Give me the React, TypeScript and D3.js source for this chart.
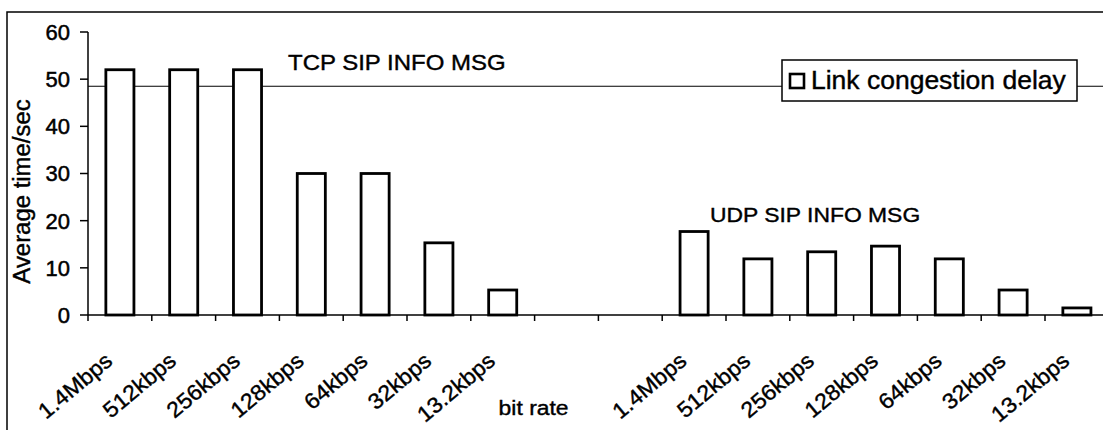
import React from 'react';
import * as d3 from 'd3';

// bit rates on the x axis (same set for TCP and UDP)
const rates = ['1.4Mbps', '512kbps', '256kbps', '128kbps', '64kbps', '32kbps', '13.2kbps'];
// link congestion delay, seconds
const tcpDelay = [52, 52, 52, 30, 30, 15.3, 5.3];
const udpDelay = [17.7, 11.9, 13.4, 14.6, 11.9, 5.3, 1.5];
const gapSlots = 2;
const yTicks = [0, 10, 20, 30, 40, 50, 60];
const refLine = 48.5;

const W = 1103;
const H = 430;
const FONT = '"Liberation Sans", Arial, sans-serif';
// the scanned lettering is a little wider than Arial
const WIDE = 1.09;

const App: React.FC = () => {
  // one row per slot: tcp, blank gap, udp
  const slots = [
    ...rates.map((r, i) => ({ label: r, value: tcpDelay[i] as number | null })),
    ...d3.range(gapSlots).map(() => ({ label: '', value: null as number | null })),
    ...rates.map((r, i) => ({ label: r, value: udpDelay[i] as number | null })),
  ];

  const left = 88;
  const step = 63.8;
  const x = d3.scaleBand<number>()
    .domain(d3.range(slots.length))
    .range([left, left + step * slots.length])
    .padding(0);
  const y = d3.scaleLinear().domain([0, 60]).range([315, 32]);

  const bw = x.bandwidth();
  const barW = bw * 0.44;
  const y0 = y(0);
  const [xStart, xEnd] = x.range();
  const boundaries = d3.range(slots.length + 1).map(k => xStart + k * x.step());

  return (
    <div style={{ position: 'absolute', left: 0, top: 0 }}>
      <svg width={W} height={H} style={{ display: 'block', background: '#fff' }} fontFamily={FONT}>
        {/* outer frame */}
        <rect x={7} y={12} width={W} height={H} fill="none" stroke="#000" strokeWidth={1.5} />

        {/* horizontal rule behind labels */}
        <line x1={xStart} x2={W} y1={y(refLine)} y2={y(refLine)} stroke="#000" strokeWidth={1.2} />

        {/* bars */}
        {slots.map((d, i) => d.value == null ? null : (
          <rect key={i}
            x={(x(i) as number) + (bw - barW) / 2}
            y={y(d.value)}
            width={barW}
            height={y0 - y(d.value)}
            fill="#fff" stroke="#000" strokeWidth={2.8} />
        ))}

        {/* y axis */}
        <line x1={xStart} x2={xStart} y1={y(60)} y2={y0} stroke="#000" strokeWidth={1.5} />
        {yTicks.map(t => (
          <g key={t} transform={`translate(${xStart},${y(t)})`}>
            <line x1={-8} x2={0} stroke="#000" strokeWidth={1.5} />
            <text x={-18} dy="0.36em" textAnchor="end" fontSize={22} stroke="#000" strokeWidth={0.5}>{t}</text>
          </g>
        ))}
        <text transform={`translate(30,${(y(60) + y0) / 2 + 18}) rotate(-90) scale(1.04,1)`} textAnchor="middle"
          fontSize={23} stroke="#000" strokeWidth={0.4}>Average time/sec</text>

        {/* x axis */}
        <line x1={xStart} x2={xEnd} y1={y0} y2={y0} stroke="#000" strokeWidth={1.5} />
        {boundaries.map((bx, k) => (
          <line key={k} x1={bx} x2={bx} y1={y0} y2={y0 + 6} stroke="#000" strokeWidth={1.5} />
        ))}
        {slots.map((d, i) => d.label === '' ? null : (
          <text key={i}
            transform={`translate(${(x(i) as number) + bw / 2 - 6},${y0 + 48}) rotate(-40) scale(1.05,1)`}
            textAnchor="end" fontSize={22} stroke="#000" strokeWidth={0.4}>{d.label}</text>
        ))}
        <text transform={`translate(${(x(7) as number) - 1},${y0 + 100}) scale(${WIDE},1)`} textAnchor="middle"
          fontSize={21} stroke="#000" strokeWidth={0.4}>bit rate</text>

        {/* group annotations */}
        <rect x={280} y={40} width={236} height={40} fill="#fff" />
        <text transform={`translate(288,70) scale(${WIDE},1)`} fontSize={22} stroke="#000" strokeWidth={0.4}>TCP SIP INFO MSG</text>
        <text transform={`translate(710,222) scale(${WIDE},1)`} fontSize={21} stroke="#000" strokeWidth={0.4}>UDP SIP INFO MSG</text>

        {/* legend */}
        <g transform="translate(782,60)">
          <rect width={295} height={41} fill="#fff" stroke="#000" strokeWidth={1.5} />
          <rect x={8} y={14} width={14} height={14} fill="#fff" stroke="#000" strokeWidth={2.6} />
          <text transform="translate(29,29) scale(1.06,1)" fontSize={25} stroke="#000" strokeWidth={0.4}>Link congestion delay</text>
        </g>
      </svg>
    </div>
  );
};

export default App;
